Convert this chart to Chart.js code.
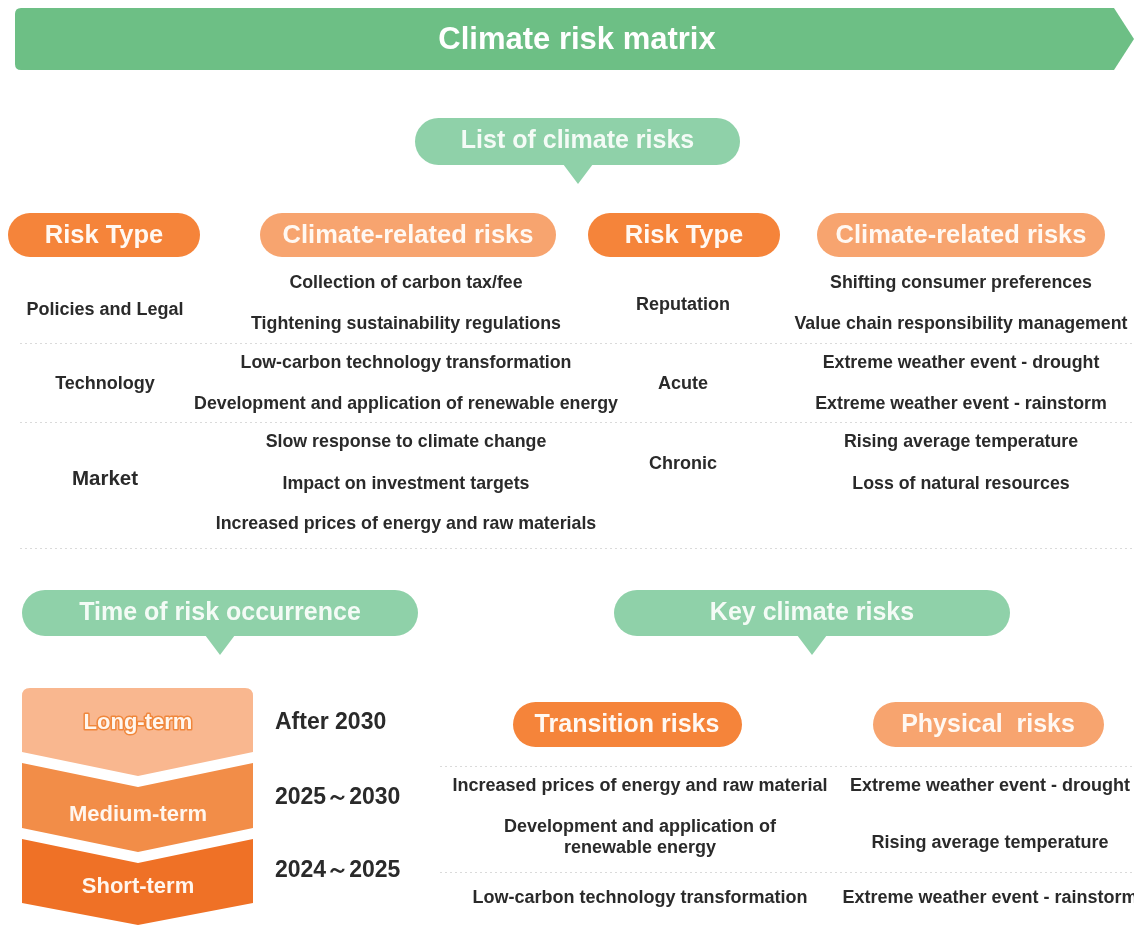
<!DOCTYPE html>
<html>
<head>
<meta charset="utf-8">
<script src="https://cdn.jsdelivr.net/npm/chart.js@4"></script>
<style>
  html, body { margin: 0; padding: 0; background: #ffffff; }
  #wrap { width: 1134px; height: 925px; }
</style>
</head>
<body>
<div id="wrap"><canvas id="matrix" width="1134" height="925"></canvas></div>
<script>
// TEXT DATA
const title = 'Climate risk matrix';
const sectionTitles = ['List of climate risks', 'Time of risk occurrence', 'Key climate risks'];
const tableHeaders = ['Risk Type', 'Climate-related risks'];
const transitionTypes = ['Policies and Legal', 'Technology', 'Market'];
const transitionRisks = [
  ['Collection of carbon tax/fee', 'Tightening sustainability regulations'],
  ['Low-carbon technology transformation', 'Development and application of renewable energy'],
  ['Slow response to climate change', 'Impact on investment targets', 'Increased prices of energy and raw materials']
];
const physicalTypes = ['Reputation', 'Acute', 'Chronic'];
const physicalRisks = [
  ['Shifting consumer preferences', 'Value chain responsibility management'],
  ['Extreme weather event - drought', 'Extreme weather event - rainstorm'],
  ['Rising average temperature', 'Loss of natural resources']
];
const horizons = ['Long-term', 'Medium-term', 'Short-term'];
const horizonYears = ['After 2030', '2025～2030', '2024～2025'];
const keyHeaders = ['Transition risks', 'Physical  risks'];
const keyTransition = ['Increased prices of energy and raw material', 'Development and application of\nrenewable energy', 'Low-carbon technology transformation'];
const keyPhysical = ['Extreme weather event - drought', 'Rising average temperature', 'Extreme weather event - rainstorm'];

// COLOURS
const GREEN = '#6dbf85';
const LIGHT_GREEN = '#8fd1a9';
const ORANGE = '#f5843a';
const LIGHT_ORANGE = '#f7a46f';
const HORIZON_COLORS = ['#f9b78f', '#f28d48', '#ef7126'];
const TEXT = '#2a2a2a';
const FONT = '"Liberation Sans", Arial, sans-serif';

// DRAWING HELPERS
function pill(ctx, x1, y1, x2, y2, color) {
  const r = (y2 - y1) / 2;
  ctx.beginPath();
  ctx.moveTo(x1 + r, y1);
  ctx.lineTo(x2 - r, y1);
  ctx.arc(x2 - r, y1 + r, r, -Math.PI / 2, Math.PI / 2);
  ctx.lineTo(x1 + r, y2);
  ctx.arc(x1 + r, y1 + r, r, Math.PI / 2, Math.PI * 1.5);
  ctx.closePath();
  ctx.fillStyle = color;
  ctx.fill();
}

function label(ctx, text, x, y, size, color, weight) {
  ctx.font = (weight || 'bold') + ' ' + size + 'px ' + FONT;
  ctx.fillStyle = color;
  ctx.textAlign = 'center';
  ctx.textBaseline = 'middle';
  ctx.fillText(text, x, y);
}

function dotted(ctx, x1, x2, y) {
  ctx.save();
  ctx.setLineDash([2, 3]);
  ctx.strokeStyle = '#dadada';
  ctx.lineWidth = 1;
  ctx.beginPath();
  ctx.moveTo(x1, y + 0.5);
  ctx.lineTo(x2, y + 0.5);
  ctx.stroke();
  ctx.restore();
}

const infographic = {
  id: 'infographic',
  afterDraw(chart) {
    const ctx = chart.ctx;
    const sx = v => chart.scales.x.getPixelForValue(v);
    const sy = v => chart.scales.y.getPixelForValue(v);
    ctx.save();

    // TITLE BANNER
    ctx.beginPath();
    ctx.moveTo(sx(21), sy(8));
    ctx.lineTo(sx(1114), sy(8));
    ctx.lineTo(sx(1134), sy(39));
    ctx.lineTo(sx(1114), sy(70));
    ctx.lineTo(sx(21), sy(70));
    ctx.quadraticCurveTo(sx(15), sy(70), sx(15), sy(64));
    ctx.lineTo(sx(15), sy(14));
    ctx.quadraticCurveTo(sx(15), sy(8), sx(21), sy(8));
    ctx.closePath();
    ctx.fillStyle = GREEN;
    ctx.fill();
    label(ctx, title, sx(577), sy(40), 31, '#ffffff');

    // SECTION CALLOUTS
    const callouts = [[415, 740, 118, 165, 578], [22, 418, 590, 636, 220], [614, 1010, 590, 636, 812]];
    callouts.forEach((c, i) => {
      pill(ctx, sx(c[0]), sy(c[2]), sx(c[1]), sy(c[3]), LIGHT_GREEN);
      ctx.beginPath();
      ctx.moveTo(sx(c[4] - 15), sy(c[3] - 1));
      ctx.lineTo(sx(c[4] + 15), sy(c[3] - 1));
      ctx.lineTo(sx(c[4]), sy(c[3] + 19));
      ctx.closePath();
      ctx.fill();
      label(ctx, sectionTitles[i], sx((c[0] + c[1]) / 2), sy((c[2] + c[3]) / 2), 25, '#f4fbf6');
    });

    // TABLE HEADERS
    const headerPills = [[8, 200, ORANGE], [260, 556, LIGHT_ORANGE], [588, 780, ORANGE], [817, 1105, LIGHT_ORANGE]];
    headerPills.forEach((h, i) => {
      pill(ctx, sx(h[0]), sy(213), sx(h[1]), sy(257), h[2]);
      label(ctx, tableHeaders[i % 2], sx((h[0] + h[1]) / 2), sy(236), 25.5, '#fff8f2');
    });

    // TABLE ROWS
    [343, 422, 548].forEach(y => dotted(ctx, sx(20), sx(1134), sy(y)));
    const itemY = [283, 324, 363, 404, 442, 484, 524];
    const transitionTypeY = [310, 384, 479];
    const physicalTypeY = [305, 384, 464];
    let k = 0;
    transitionRisks.forEach((group, g) => {
      label(ctx, transitionTypes[g], sx(105), sy(transitionTypeY[g]), g === 2 ? 20.5 : 18, TEXT);
      group.forEach(item => { label(ctx, item, sx(406), sy(itemY[k]), 17.8, TEXT); k++; });
    });
    k = 0;
    physicalRisks.forEach((group, g) => {
      label(ctx, physicalTypes[g], sx(683), sy(physicalTypeY[g]), 18, TEXT);
      group.forEach(item => { label(ctx, item, sx(961), sy(itemY[k]), 17.8, TEXT); k++; });
    });

    // TIME HORIZON CHEVRONS
    const chev = [[688, 688, 752, 776], [763, 787, 828, 852], [839, 863, 903, 925]];
    const cx = 138, left = 22, right = 253;
    chev.forEach((c, i) => {
      ctx.beginPath();
      if (i === 0) {
        ctx.moveTo(sx(left), sy(c[0] + 8));
        ctx.quadraticCurveTo(sx(left), sy(c[0]), sx(left + 8), sy(c[0]));
        ctx.lineTo(sx(right - 8), sy(c[0]));
        ctx.quadraticCurveTo(sx(right), sy(c[0]), sx(right), sy(c[0] + 8));
      } else {
        ctx.moveTo(sx(left), sy(c[0]));
        ctx.lineTo(sx(cx), sy(c[1]));
        ctx.lineTo(sx(right), sy(c[0]));
      }
      ctx.lineTo(sx(right), sy(c[2]));
      ctx.lineTo(sx(cx), sy(c[3]));
      ctx.lineTo(sx(left), sy(c[2]));
      ctx.closePath();
      ctx.fillStyle = HORIZON_COLORS[i];
      ctx.fill();
    });
    const horizonY = [723, 815, 887];
    horizons.forEach((h, i) => {
      ctx.font = 'bold 22px ' + FONT;
      ctx.textAlign = 'center';
      ctx.textBaseline = 'middle';
      if (i === 0) {
        ctx.lineWidth = 3;
        ctx.strokeStyle = '#f0873c';
        ctx.lineJoin = 'round';
        ctx.strokeText(h, sx(cx), sy(horizonY[i]));
      }
      ctx.fillStyle = '#fff6ee';
      ctx.fillText(h, sx(cx), sy(horizonY[i]));
    });
    const yearY = [723, 798, 871];
    horizonYears.forEach((t, i) => {
      ctx.font = 'bold 23px ' + FONT;
      ctx.fillStyle = TEXT;
      ctx.textAlign = 'left';
      ctx.textBaseline = 'middle';
      ctx.fillText(t, sx(275), sy(yearY[i]));
    });

    // KEY RISKS
    pill(ctx, sx(513), sy(702), sx(742), sy(747), ORANGE);
    label(ctx, keyHeaders[0], sx(627), sy(725), 25, '#fff8f2');
    pill(ctx, sx(873), sy(702), sx(1104), sy(747), LIGHT_ORANGE);
    label(ctx, keyHeaders[1], sx(988), sy(725), 25, '#fff8f2');
    [766, 872].forEach(y => dotted(ctx, sx(440), sx(1134), sy(y)));
    const keyY = [786, 838, 898];
    keyTransition.forEach((t, i) => {
      const lines = t.split('\n');
      lines.forEach((ln, j) => {
        label(ctx, ln, sx(640), sy(keyY[i] + (j - (lines.length - 1) / 2) * 21), 18, TEXT);
      });
    });
    const keyPY = [786, 843, 898];
    keyPhysical.forEach((t, i) => label(ctx, t, sx(990), sy(keyPY[i]), 18, TEXT));

    ctx.restore();
  }
};

new Chart(document.getElementById('matrix'), {
  type: 'scatter',
  data: { datasets: [] },
  options: {
    responsive: false,
    animation: false,
    layout: { padding: 0 },
    plugins: { legend: { display: false }, tooltip: { enabled: false } },
    scales: {
      x: { type: 'linear', min: 0, max: 1134, display: false },
      y: { type: 'linear', min: 0, max: 925, reverse: true, display: false }
    }
  },
  plugins: [infographic]
});
</script>
</body>
</html>
